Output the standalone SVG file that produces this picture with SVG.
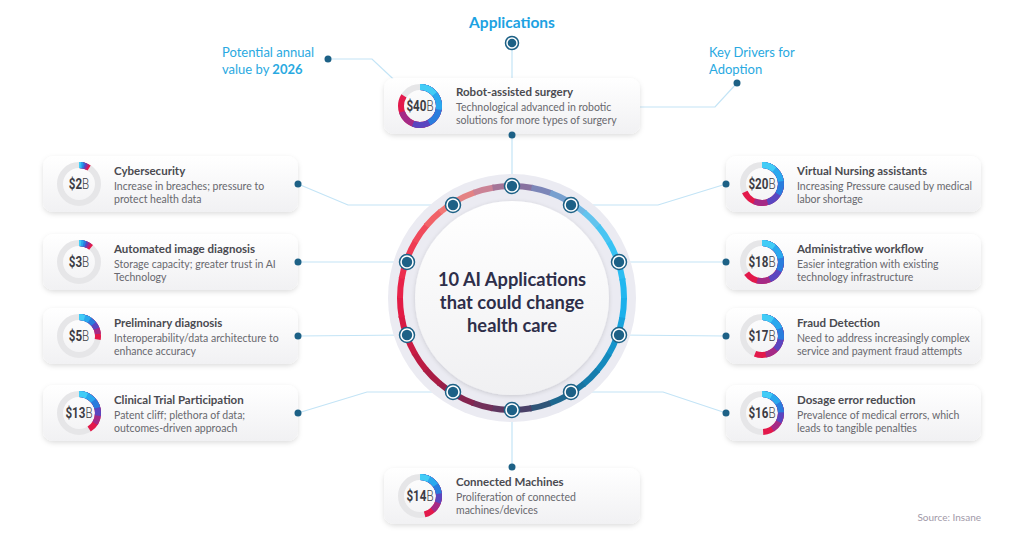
<svg xmlns="http://www.w3.org/2000/svg" width="1024" height="538" viewBox="0 0 1024 538">
<defs>
<filter id="sh" x="-10%" y="-20%" width="120%" height="150%"><feDropShadow dx="0" dy="2" stdDeviation="2.5" flood-color="#000" flood-opacity="0.13"/></filter>
<filter id="sh2" x="-10%" y="-10%" width="120%" height="120%"><feDropShadow dx="0" dy="1" stdDeviation="2" flood-color="#000" flood-opacity="0.15"/></filter>
<linearGradient id="cardg" x1="0" y1="0" x2="0" y2="1"><stop offset="0" stop-color="#ffffff"/><stop offset="1" stop-color="#f1f1f3"/></linearGradient>
<linearGradient id="diskg" x1="0" y1="0" x2="0" y2="1"><stop offset="0" stop-color="#ffffff"/><stop offset="1" stop-color="#f0f0f2"/></linearGradient>
<style>
.card{fill:url(#cardg);filter:url(#sh)}
.t{font-family:Lato,"Liberation Sans",sans-serif;font-size:11.5px;font-weight:700;fill:#4a4a50}
.d{font-family:Lato,"Liberation Sans",sans-serif;font-size:10.5px;fill:#68686e}
.v{font-family:Roboto,"Liberation Sans",sans-serif;font-size:14.5px;fill:#3c3c44;text-anchor:middle}
.vb{font-weight:700}
.vl{font-weight:300}
.trk{fill:none;stroke:#e6e6e8;stroke-width:6}
.a{fill:none;stroke-width:6}
.c1{stroke:#e3194b}.c2{stroke:#a52a86}.c3{stroke:#5a46c0}.c4{stroke:#2a7ddd}.c5{stroke:#2aa8ee}.c6{stroke:#42ccf6}
.ln{fill:none;stroke:#c3e4f6;stroke-width:1.2}
.dot{fill:#1d6186}
.seg{fill:none;stroke-width:6;stroke-dasharray:10.8 349.2}
.lab{font-family:Lato,"Liberation Sans",sans-serif;font-size:13px;fill:#29a9e1}
</style>
</defs>
<rect width="1024" height="538" fill="#ffffff"/>

<g id="connectors">
<polyline class="ln" points="512,43 512,80"/>
<polyline class="ln" points="512,134 512,186"/>
<polyline class="ln" points="512,410 512,467"/>
<polyline class="ln" points="298,184 348,205 453,205"/>
<polyline class="ln" points="298,262 407,262"/>
<polyline class="ln" points="298,336 407,335"/>
<polyline class="ln" points="298,413 367,392 453,392"/>
<polyline class="ln" points="726,184 658,205 571,205"/>
<polyline class="ln" points="726,262 619,262"/>
<polyline class="ln" points="726,336 619,335"/>
<polyline class="ln" points="726,413 663,392 571,392"/>
<polyline class="ln" points="328,59 372,59 405,90"/>
<polyline class="ln" points="737,83 715,107 640,107"/>
</g>

<g id="title">
<text x="512" y="28" text-anchor="middle" font-family="Lato,'Liberation Sans',sans-serif" font-size="15.5" font-weight="700" fill="#1ca2e2">Applications</text>
<circle cx="512" cy="43" r="6.5" fill="#fff" stroke="#1d6186" stroke-width="1.5"/>
<circle cx="512" cy="43" r="4.3" class="dot"/>
</g>

<g id="label-value">
<text class="lab" x="222" y="57">Potential annual</text>
<text class="lab" x="222" y="74">value by <tspan font-weight="700">2026</tspan></text>
<circle cx="328" cy="59" r="3.5" class="dot"/>
</g>
<g id="label-drivers">
<text class="lab" x="709" y="57">Key Drivers for</text>
<text class="lab" x="709" y="74">Adoption</text>
<circle cx="737" cy="83" r="3.5" class="dot"/>
</g>

<g id="hub">
<circle cx="512" cy="298" r="124" fill="#ebebf2"/>
<g transform="rotate(-90 512 298)">
<circle class="seg" cx="512" cy="298" r="112" pathLength="360" stroke="#87719f" stroke-dashoffset="0"/>
<circle class="seg" cx="512" cy="298" r="112" pathLength="360" stroke="#7c86b8" stroke-dashoffset="-10"/>
<circle class="seg" cx="512" cy="298" r="112" pathLength="360" stroke="#77a0cf" stroke-dashoffset="-20"/>
<circle class="seg" cx="512" cy="298" r="112" pathLength="360" stroke="#70b8e4" stroke-dashoffset="-30"/>
<circle class="seg" cx="512" cy="298" r="112" pathLength="360" stroke="#62c4ee" stroke-dashoffset="-40"/>
<circle class="seg" cx="512" cy="298" r="112" pathLength="360" stroke="#48c5f3" stroke-dashoffset="-50"/>
<circle class="seg" cx="512" cy="298" r="112" pathLength="360" stroke="#37c3f4" stroke-dashoffset="-60"/>
<circle class="seg" cx="512" cy="298" r="112" pathLength="360" stroke="#2cbdf2" stroke-dashoffset="-70"/>
<circle class="seg" cx="512" cy="298" r="112" pathLength="360" stroke="#22b7ef" stroke-dashoffset="-80"/>
<circle class="seg" cx="512" cy="298" r="112" pathLength="360" stroke="#1bb0eb" stroke-dashoffset="-90"/>
<circle class="seg" cx="512" cy="298" r="112" pathLength="360" stroke="#18a2dc" stroke-dashoffset="-100"/>
<circle class="seg" cx="512" cy="298" r="112" pathLength="360" stroke="#1694cb" stroke-dashoffset="-110"/>
<circle class="seg" cx="512" cy="298" r="112" pathLength="360" stroke="#158abd" stroke-dashoffset="-120"/>
<circle class="seg" cx="512" cy="298" r="112" pathLength="360" stroke="#167dad" stroke-dashoffset="-130"/>
<circle class="seg" cx="512" cy="298" r="112" pathLength="360" stroke="#18739f" stroke-dashoffset="-140"/>
<circle class="seg" cx="512" cy="298" r="112" pathLength="360" stroke="#1e6890" stroke-dashoffset="-150"/>
<circle class="seg" cx="512" cy="298" r="112" pathLength="360" stroke="#2f5578" stroke-dashoffset="-160"/>
<circle class="seg" cx="512" cy="298" r="112" pathLength="360" stroke="#4a4068" stroke-dashoffset="-170"/>
<circle class="seg" cx="512" cy="298" r="112" pathLength="360" stroke="#5f3760" stroke-dashoffset="-180"/>
<circle class="seg" cx="512" cy="298" r="112" pathLength="360" stroke="#72305a" stroke-dashoffset="-190"/>
<circle class="seg" cx="512" cy="298" r="112" pathLength="360" stroke="#852550" stroke-dashoffset="-200"/>
<circle class="seg" cx="512" cy="298" r="112" pathLength="360" stroke="#961f48" stroke-dashoffset="-210"/>
<circle class="seg" cx="512" cy="298" r="112" pathLength="360" stroke="#a91d45" stroke-dashoffset="-220"/>
<circle class="seg" cx="512" cy="298" r="112" pathLength="360" stroke="#bb1b43" stroke-dashoffset="-230"/>
<circle class="seg" cx="512" cy="298" r="112" pathLength="360" stroke="#ca1a43" stroke-dashoffset="-240"/>
<circle class="seg" cx="512" cy="298" r="112" pathLength="360" stroke="#d71a44" stroke-dashoffset="-250"/>
<circle class="seg" cx="512" cy="298" r="112" pathLength="360" stroke="#e21b45" stroke-dashoffset="-260"/>
<circle class="seg" cx="512" cy="298" r="112" pathLength="360" stroke="#e82249" stroke-dashoffset="-270"/>
<circle class="seg" cx="512" cy="298" r="112" pathLength="360" stroke="#ec2e4e" stroke-dashoffset="-280"/>
<circle class="seg" cx="512" cy="298" r="112" pathLength="360" stroke="#ef3b53" stroke-dashoffset="-290"/>
<circle class="seg" cx="512" cy="298" r="112" pathLength="360" stroke="#f04a5c" stroke-dashoffset="-300"/>
<circle class="seg" cx="512" cy="298" r="112" pathLength="360" stroke="#f16268" stroke-dashoffset="-310"/>
<circle class="seg" cx="512" cy="298" r="112" pathLength="360" stroke="#f27876" stroke-dashoffset="-320"/>
<circle class="seg" cx="512" cy="298" r="112" pathLength="360" stroke="#e48283" stroke-dashoffset="-330"/>
<circle class="seg" cx="512" cy="298" r="112" pathLength="360" stroke="#cb8396" stroke-dashoffset="-340"/>
<circle class="seg" cx="512" cy="298" r="112" pathLength="360" stroke="#a47598" stroke-dashoffset="-350"/>
</g>
<circle cx="512" cy="298" r="97" fill="url(#diskg)" filter="url(#sh2)"/>
<g font-family="Lato,'Liberation Sans',sans-serif" font-size="18.3" font-weight="700" fill="#2e2f4a" text-anchor="middle">
<text x="512" y="286">10 AI Applications</text>
<text x="512" y="309">that could change</text>
<text x="512" y="332">health care</text>
</g>
<g fill="#fff" stroke="#1d6186" stroke-width="1.5">
<circle cx="512" cy="186" r="7.5"/><circle cx="571" cy="205" r="7.5"/><circle cx="619" cy="262" r="7.5"/><circle cx="619" cy="335" r="7.5"/><circle cx="571" cy="392" r="7.5"/>
<circle cx="512" cy="410" r="7.5"/><circle cx="453" cy="392" r="7.5"/><circle cx="407" cy="335" r="7.5"/><circle cx="407" cy="262" r="7.5"/><circle cx="453" cy="205" r="7.5"/>
</g>
<g class="dot">
<circle cx="512" cy="186" r="5.2"/><circle cx="571" cy="205" r="5.2"/><circle cx="619" cy="262" r="5.2"/><circle cx="619" cy="335" r="5.2"/><circle cx="571" cy="392" r="5.2"/>
<circle cx="512" cy="410" r="5.2"/><circle cx="453" cy="392" r="5.2"/><circle cx="407" cy="335" r="5.2"/><circle cx="407" cy="262" r="5.2"/><circle cx="453" cy="205" r="5.2"/>
</g>
</g>

<g id="robot" transform="translate(384,78)">
<rect class="card" width="256" height="56" rx="10"/>
<g transform="translate(36,28) rotate(-90)"><circle class="trk" r="19"/>
<circle class="a c1" r="19" pathLength="100" stroke-dasharray="84 100"/><circle class="a c2" r="19" pathLength="100" stroke-dasharray="70 100"/><circle class="a c3" r="19" pathLength="100" stroke-dasharray="56 100"/><circle class="a c4" r="19" pathLength="100" stroke-dasharray="42 100"/><circle class="a c5" r="19" pathLength="100" stroke-dasharray="28 100"/><circle class="a c6" r="19" pathLength="100" stroke-dasharray="14 100"/></g>
<text class="v" transform="translate(36,33) scale(0.8,1)"><tspan class="vb">$40</tspan><tspan class="vl">B</tspan></text>
<text class="t" x="72" y="17.5">Robot-assisted surgery</text>
<text class="d" x="72" y="32.5">Technological advanced in robotic</text>
<text class="d" x="72" y="45.5">solutions for more types of surgery</text>
<circle cx="128" cy="57" r="3.5" class="dot"/>
</g>

<g id="cybersecurity" transform="translate(43,156)">
<rect class="card" width="255" height="56" rx="10"/>
<g transform="translate(36,28) rotate(-90)"><circle class="trk" r="19"/>
<circle class="a c1" r="19" pathLength="100" stroke-dasharray="9 100"/><circle class="a c2" r="19" pathLength="100" stroke-dasharray="7.5 100"/><circle class="a c3" r="19" pathLength="100" stroke-dasharray="6 100"/><circle class="a c4" r="19" pathLength="100" stroke-dasharray="4.5 100"/><circle class="a c5" r="19" pathLength="100" stroke-dasharray="3 100"/><circle class="a c6" r="19" pathLength="100" stroke-dasharray="1.5 100"/></g>
<text class="v" transform="translate(36,33) scale(0.8,1)"><tspan class="vb">$2</tspan><tspan class="vl">B</tspan></text>
<text class="t" x="71" y="18.5">Cybersecurity</text>
<text class="d" x="71" y="33.5">Increase in breaches; pressure to</text>
<text class="d" x="71" y="46.5">protect health data</text>
<circle cx="255" cy="28" r="3.5" class="dot"/>
</g>

<g id="automated-image" transform="translate(43,234)">
<rect class="card" width="255" height="56" rx="10"/>
<g transform="translate(36,28) rotate(-90)"><circle class="trk" r="19"/>
<circle class="a c1" r="19" pathLength="100" stroke-dasharray="11 100"/><circle class="a c2" r="19" pathLength="100" stroke-dasharray="9.2 100"/><circle class="a c3" r="19" pathLength="100" stroke-dasharray="7.3 100"/><circle class="a c4" r="19" pathLength="100" stroke-dasharray="5.5 100"/><circle class="a c5" r="19" pathLength="100" stroke-dasharray="3.7 100"/><circle class="a c6" r="19" pathLength="100" stroke-dasharray="1.8 100"/></g>
<text class="v" transform="translate(36,33) scale(0.8,1)"><tspan class="vb">$3</tspan><tspan class="vl">B</tspan></text>
<text class="t" x="71" y="18.5">Automated image diagnosis</text>
<text class="d" x="71" y="33.5">Storage capacity; greater trust in AI</text>
<text class="d" x="71" y="46.5">Technology</text>
<circle cx="255" cy="28" r="3.5" class="dot"/>
</g>

<g id="preliminary" transform="translate(43,308)">
<rect class="card" width="255" height="56" rx="10"/>
<g transform="translate(36,28) rotate(-90)"><circle class="trk" r="19"/>
<circle class="a c1" r="19" pathLength="100" stroke-dasharray="28 100"/><circle class="a c2" r="19" pathLength="100" stroke-dasharray="23.3 100"/><circle class="a c3" r="19" pathLength="100" stroke-dasharray="18.7 100"/><circle class="a c4" r="19" pathLength="100" stroke-dasharray="14 100"/><circle class="a c5" r="19" pathLength="100" stroke-dasharray="9.3 100"/><circle class="a c6" r="19" pathLength="100" stroke-dasharray="4.7 100"/></g>
<text class="v" transform="translate(36,33) scale(0.8,1)"><tspan class="vb">$5</tspan><tspan class="vl">B</tspan></text>
<text class="t" x="71" y="18.5">Preliminary diagnosis</text>
<text class="d" x="71" y="33.5">Interoperability/data architecture to</text>
<text class="d" x="71" y="46.5">enhance accuracy</text>
<circle cx="255" cy="28" r="3.5" class="dot"/>
</g>

<g id="clinical-trial" transform="translate(43,385)">
<rect class="card" width="255" height="56" rx="10"/>
<g transform="translate(36,28) rotate(-90)"><circle class="trk" r="19"/>
<circle class="a c1" r="19" pathLength="100" stroke-dasharray="41 100"/><circle class="a c2" r="19" pathLength="100" stroke-dasharray="34.2 100"/><circle class="a c3" r="19" pathLength="100" stroke-dasharray="27.3 100"/><circle class="a c4" r="19" pathLength="100" stroke-dasharray="20.5 100"/><circle class="a c5" r="19" pathLength="100" stroke-dasharray="13.7 100"/><circle class="a c6" r="19" pathLength="100" stroke-dasharray="6.8 100"/></g>
<text class="v" transform="translate(36,33) scale(0.8,1)"><tspan class="vb">$13</tspan><tspan class="vl">B</tspan></text>
<text class="t" x="71" y="18.5">Clinical Trial Participation</text>
<text class="d" x="71" y="33.5">Patent cliff; plethora of data;</text>
<text class="d" x="71" y="46.5">outcomes-driven approach</text>
<circle cx="255" cy="28" r="3.5" class="dot"/>
</g>

<g id="virtual-nursing" transform="translate(726,156)">
<rect class="card" width="255" height="56" rx="10"/>
<g transform="translate(36,28) rotate(-90)"><circle class="trk" r="19"/>
<circle class="a c1" r="19" pathLength="100" stroke-dasharray="68 100"/><circle class="a c2" r="19" pathLength="100" stroke-dasharray="56.7 100"/><circle class="a c3" r="19" pathLength="100" stroke-dasharray="45.3 100"/><circle class="a c4" r="19" pathLength="100" stroke-dasharray="34 100"/><circle class="a c5" r="19" pathLength="100" stroke-dasharray="22.7 100"/><circle class="a c6" r="19" pathLength="100" stroke-dasharray="11.3 100"/></g>
<text class="v" transform="translate(36,33) scale(0.8,1)"><tspan class="vb">$20</tspan><tspan class="vl">B</tspan></text>
<text class="t" x="71" y="18.5">Virtual Nursing assistants</text>
<text class="d" x="71" y="33.5">Increasing Pressure caused by medical</text>
<text class="d" x="71" y="46.5">labor shortage</text>
<circle cx="0" cy="28" r="3.5" class="dot"/>
</g>

<g id="administrative" transform="translate(726,234)">
<rect class="card" width="255" height="56" rx="10"/>
<g transform="translate(36,28) rotate(-90)"><circle class="trk" r="19"/>
<circle class="a c1" r="19" pathLength="100" stroke-dasharray="65 100"/><circle class="a c2" r="19" pathLength="100" stroke-dasharray="54.2 100"/><circle class="a c3" r="19" pathLength="100" stroke-dasharray="43.3 100"/><circle class="a c4" r="19" pathLength="100" stroke-dasharray="32.5 100"/><circle class="a c5" r="19" pathLength="100" stroke-dasharray="21.7 100"/><circle class="a c6" r="19" pathLength="100" stroke-dasharray="10.8 100"/></g>
<text class="v" transform="translate(36,33) scale(0.8,1)"><tspan class="vb">$18</tspan><tspan class="vl">B</tspan></text>
<text class="t" x="71" y="18.5">Administrative workflow</text>
<text class="d" x="71" y="33.5">Easier integration with existing</text>
<text class="d" x="71" y="46.5">technology infrastructure</text>
<circle cx="0" cy="28" r="3.5" class="dot"/>
</g>

<g id="fraud" transform="translate(726,308)">
<rect class="card" width="255" height="56" rx="10"/>
<g transform="translate(36,28) rotate(-90)"><circle class="trk" r="19"/>
<circle class="a c1" r="19" pathLength="100" stroke-dasharray="56 100"/><circle class="a c2" r="19" pathLength="100" stroke-dasharray="46.7 100"/><circle class="a c3" r="19" pathLength="100" stroke-dasharray="37.3 100"/><circle class="a c4" r="19" pathLength="100" stroke-dasharray="28 100"/><circle class="a c5" r="19" pathLength="100" stroke-dasharray="18.7 100"/><circle class="a c6" r="19" pathLength="100" stroke-dasharray="9.3 100"/></g>
<text class="v" transform="translate(36,33) scale(0.8,1)"><tspan class="vb">$17</tspan><tspan class="vl">B</tspan></text>
<text class="t" x="71" y="18.5">Fraud Detection</text>
<text class="d" x="71" y="33.5">Need to address increasingly complex</text>
<text class="d" x="71" y="46.5">service and payment fraud attempts</text>
<circle cx="0" cy="28" r="3.5" class="dot"/>
</g>

<g id="dosage" transform="translate(726,385)">
<rect class="card" width="255" height="56" rx="10"/>
<g transform="translate(36,28) rotate(-90)"><circle class="trk" r="19"/>
<circle class="a c1" r="19" pathLength="100" stroke-dasharray="49 100"/><circle class="a c2" r="19" pathLength="100" stroke-dasharray="40.8 100"/><circle class="a c3" r="19" pathLength="100" stroke-dasharray="32.7 100"/><circle class="a c4" r="19" pathLength="100" stroke-dasharray="24.5 100"/><circle class="a c5" r="19" pathLength="100" stroke-dasharray="16.3 100"/><circle class="a c6" r="19" pathLength="100" stroke-dasharray="8.2 100"/></g>
<text class="v" transform="translate(36,33) scale(0.8,1)"><tspan class="vb">$16</tspan><tspan class="vl">B</tspan></text>
<text class="t" x="71" y="18.5">Dosage error reduction</text>
<text class="d" x="71" y="33.5">Prevalence of medical errors, which</text>
<text class="d" x="71" y="46.5">leads to tangible penalties</text>
<circle cx="0" cy="28" r="3.5" class="dot"/>
</g>

<g id="connected-machines" transform="translate(384,468)">
<rect class="card" width="256" height="56" rx="10"/>
<g transform="translate(36,28) rotate(-90)"><circle class="trk" r="19"/>
<circle class="a c1" r="19" pathLength="100" stroke-dasharray="46 100"/><circle class="a c2" r="19" pathLength="100" stroke-dasharray="38.3 100"/><circle class="a c3" r="19" pathLength="100" stroke-dasharray="30.7 100"/><circle class="a c4" r="19" pathLength="100" stroke-dasharray="23 100"/><circle class="a c5" r="19" pathLength="100" stroke-dasharray="15.3 100"/><circle class="a c6" r="19" pathLength="100" stroke-dasharray="7.7 100"/></g>
<text class="v" transform="translate(36,33) scale(0.8,1)"><tspan class="vb">$14</tspan><tspan class="vl">B</tspan></text>
<text class="t" x="72" y="17.5">Connected Machines</text>
<text class="d" x="72" y="32.5">Proliferation of connected</text>
<text class="d" x="72" y="45.5">machines/devices</text>
<circle cx="128" cy="-1" r="3.5" class="dot"/>
</g>

<text x="981" y="521" text-anchor="end" font-family="Lato,'Liberation Sans',sans-serif" font-size="10" fill="#9f99a8">Source: Insane</text>
</svg>
